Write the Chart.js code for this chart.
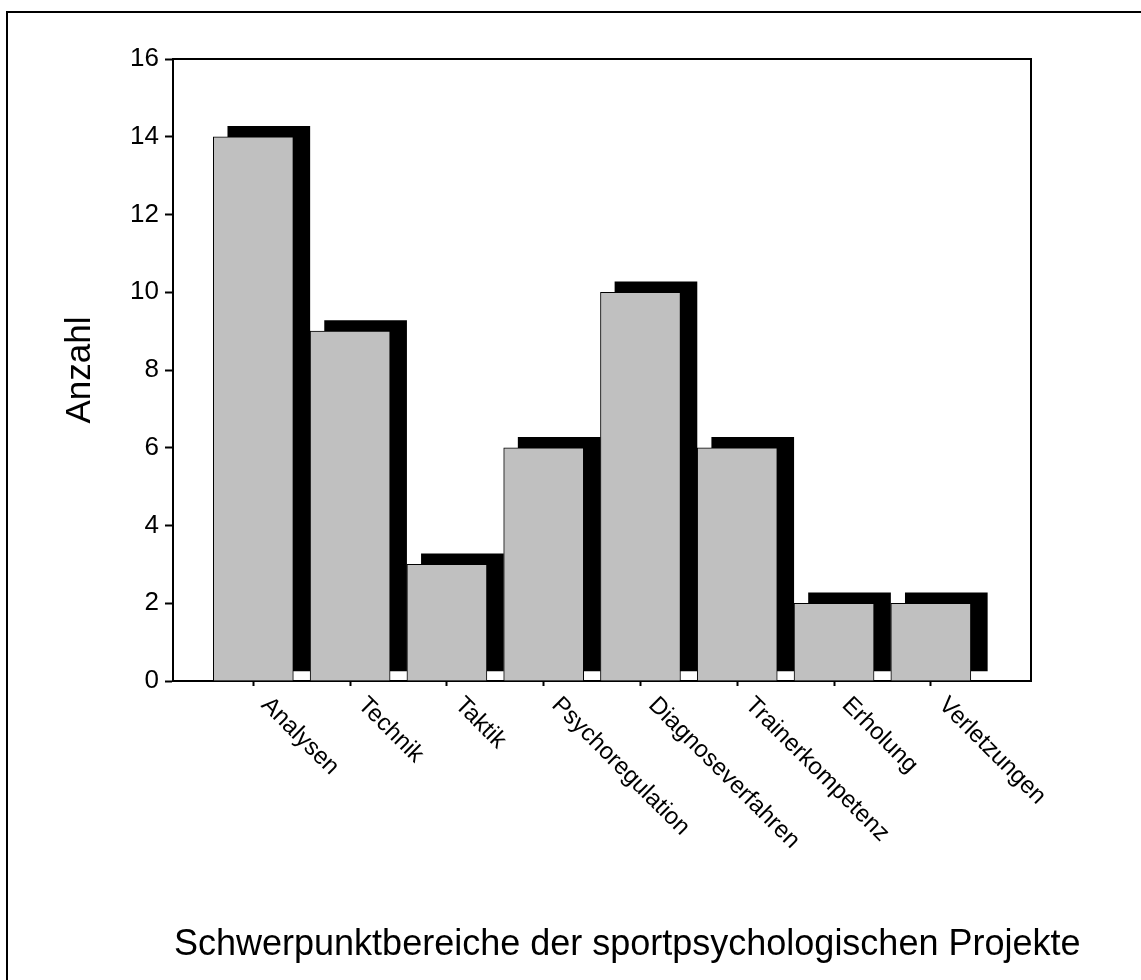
<!DOCTYPE html>
<html>
<head>
<meta charset="utf-8">
<script src="https://cdn.jsdelivr.net/npm/chart.js@4"></script>
<style>
  body { margin: 0; background: #fff; }
  #wrap { width: 1141px; height: 980px; position: relative; }
</style>
</head>
<body>
<div id="wrap"><canvas id="myChart"></canvas></div>
<script>
  // Schwerpunktbereiche, Anzahl der Projekte
  const categories = [
    'Analysen',
    'Technik',
    'Taktik',
    'Psychoregulation',
    'Diagnoseverfahren',
    'Trainerkompetenz',
    'Erholung',
    'Verletzungen',
  ];
  const counts = [14, 9, 3, 6, 10, 6, 2, 2];
  const yTicks = [0, 2, 4, 6, 8, 10, 12, 14, 16];
  const xTitle = 'Schwerpunktbereiche der sportpsychologischen Projekte';

  // the black "3D" shadow behind each bar
  const shadowShift = 0.16;
  const shadowLift = 0.27;
  const shadowBase = 0.26;

  const barData = counts.map((v, i) => ({ x: i + 1, y: v }));
  const shadowData = counts.map((v, i) => ({ x: i + 1 + shadowShift, y: [shadowBase, v + shadowLift] }));

  const fontFam = '"Liberation Sans", Arial, sans-serif';

  const frameAndLabels = {
    id: 'frameAndLabels',
    beforeDraw(chart) {
      const ctx = chart.ctx;
      ctx.save();
      ctx.strokeStyle = '#000';
      ctx.lineWidth = 2;
      ctx.strokeRect(7, 12, 1400, 1400);
      ctx.restore();
    },
    afterDraw(chart) {
      const ctx = chart.ctx;
      const area = chart.chartArea;
      const xs = chart.scales.x;
      ctx.save();
      // top and right edge of the plot box
      ctx.strokeStyle = '#000';
      ctx.lineWidth = 2;
      ctx.beginPath();
      ctx.moveTo(area.left, area.top);
      ctx.lineTo(area.right, area.top);
      ctx.lineTo(area.right, area.bottom);
      ctx.stroke();
      // category labels, turned 45 degrees downwards
      ctx.fillStyle = '#000';
      ctx.font = '24px ' + fontFam;
      ctx.textAlign = 'left';
      ctx.textBaseline = 'alphabetic';
      categories.forEach((c, i) => {
        const px = xs.getPixelForValue(i + 1);
        ctx.save();
        ctx.translate(px + 7, area.bottom + 25);
        ctx.rotate(Math.PI / 4);
        ctx.fillText(c, 0, 0);
        ctx.restore();
      });
      // axis title below, not squeezed to the axis width
      ctx.font = '36px ' + fontFam;
      ctx.fillText(xTitle, area.left + 1, 955);
      ctx.restore();
    }
  };

  const config = {
    type: 'bar',
    data: {
      datasets: [
        {
          label: 'Anzahl',
          data: barData,
          backgroundColor: '#c0c0c0',
          borderColor: '#000',
          borderWidth: 1,
          barThickness: 80,
          grouped: false,
          order: 1
        },
        {
          label: 'Schatten',
          data: shadowData,
          backgroundColor: '#000',
          borderWidth: 0,
          barThickness: 82,
          grouped: false,
          order: 2
        }
      ]
    },
    options: {
      responsive: true,
      maintainAspectRatio: false,
      animation: false,
      events: [],
      layout: { padding: { left: 0, top: 59, right: 110, bottom: 0 } },
      plugins: {
        legend: { display: false },
        tooltip: { enabled: false }
      },
      scales: {
        x: {
          type: 'linear',
          offset: false,
          min: 0.17,
          max: 9.035,
          afterBuildTicks: (s) => { s.ticks = categories.map((c, i) => ({ value: i + 1 })); },
          afterFit: (s) => { s.height = 299; },
          ticks: { display: false },
          grid: { offset: false, drawOnChartArea: false, drawTicks: true, tickLength: 5, tickWidth: 2, tickColor: '#000' },
          border: { display: true, color: '#000', width: 2 },
          title: { display: false }
        },
        y: {
          min: 0,
          max: 16,
          afterBuildTicks: (s) => { s.ticks = yTicks.map(v => ({ value: v })); },
          afterFit: (s) => { s.width = 173; },
          ticks: { color: '#000', padding: 6, font: { family: fontFam, size: 26 } },
          grid: { drawOnChartArea: false, drawTicks: true, tickLength: 8, tickWidth: 2, tickColor: '#000' },
          border: { display: true, color: '#000', width: 2 },
          title: {
            display: true,
            text: 'Anzahl',
            color: '#000',
            font: { family: fontFam, size: 35 },
            padding: { top: 59, bottom: 0 }
          }
        }
      }
    },
    plugins: [frameAndLabels]
  };

  var myChart = new Chart(document.getElementById('myChart'), config);
</script>
</body>
</html>
